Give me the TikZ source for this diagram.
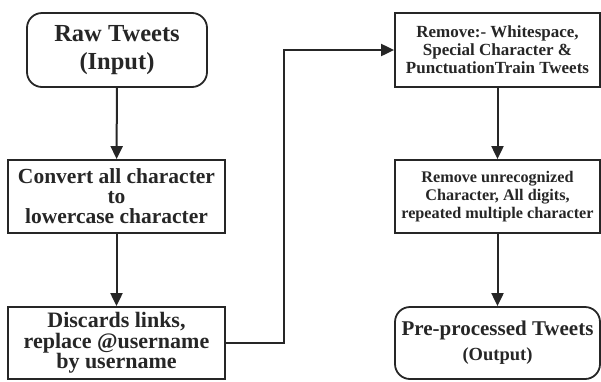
\documentclass[tikz,border=0pt]{standalone}
\usepackage{fontspec}
\setmainfont{Liberation Serif}
\usepackage{tikz}
\usetikzlibrary{arrows.meta}

\definecolor{ink}{HTML}{262626}

\begin{document}
\begin{tikzpicture}[x=1pt, y=-1pt,
    every node/.style={text=ink, font=\bfseries, align=center, inner sep=0pt},
    stepbox/.style={rectangle, draw=ink, line width=1.8pt},
    termbox/.style={rectangle, rounded corners=15pt, draw=ink, line width=1.8pt},
    arr/.style={draw=ink, line width=2pt, -{Triangle[length=13pt, width=12pt]}}]
                \useasboundingbox (0,0) rectangle (601,381);
                % Left column
                \node[termbox, minimum width=180pt, minimum height=74pt, font=\bfseries\fontsize{24.5}{28}\selectfont] (raw) at (117,50) {Raw Tweets\\(Input)};
                \node[stepbox, minimum width=217pt, minimum height=73pt, font=\bfseries\fontsize{21.5}{20}\selectfont] (conv) at (116.5,196.5) {Convert all character\\to\\lowercase character};
                \node[stepbox, minimum width=217pt, minimum height=72pt, font=\bfseries\fontsize{22}{20.5}\selectfont] (disc) at (116.5,343) {Discards links,\\replace @username\\by username};

                % Right column
                \node[stepbox, minimum width=205pt, minimum height=74pt, font=\bfseries\fontsize{17}{18}\selectfont] (rem1) at (497.5,50) {Remove:- Whitespace,\\Special Character \&\\PunctuationTrain Tweets};
                \node[stepbox, minimum width=205pt, minimum height=73pt, font=\bfseries\fontsize{16.2}{18}\selectfont] (rem2) at (497.5,196.5) {Remove unrecognized\\Character, All digits,\\repeated multiple character};
                \node[termbox, minimum width=205pt, minimum height=72pt, font=\bfseries\fontsize{21}{25}\selectfont] (out) at (497.5,343) {Pre-processed Tweets\\{\fontsize{18.5}{20}\selectfont(Output)}};

                \draw[arr] (raw) -- (conv);
                \draw[arr] (conv) -- (disc);
                \draw[arr] (disc.east) -- ++(58,0) |- (rem1.west);
                \draw[arr] (rem1) -- (rem2);
                \draw[arr] (rem2) -- (out);
            \end{tikzpicture}
\end{document}
